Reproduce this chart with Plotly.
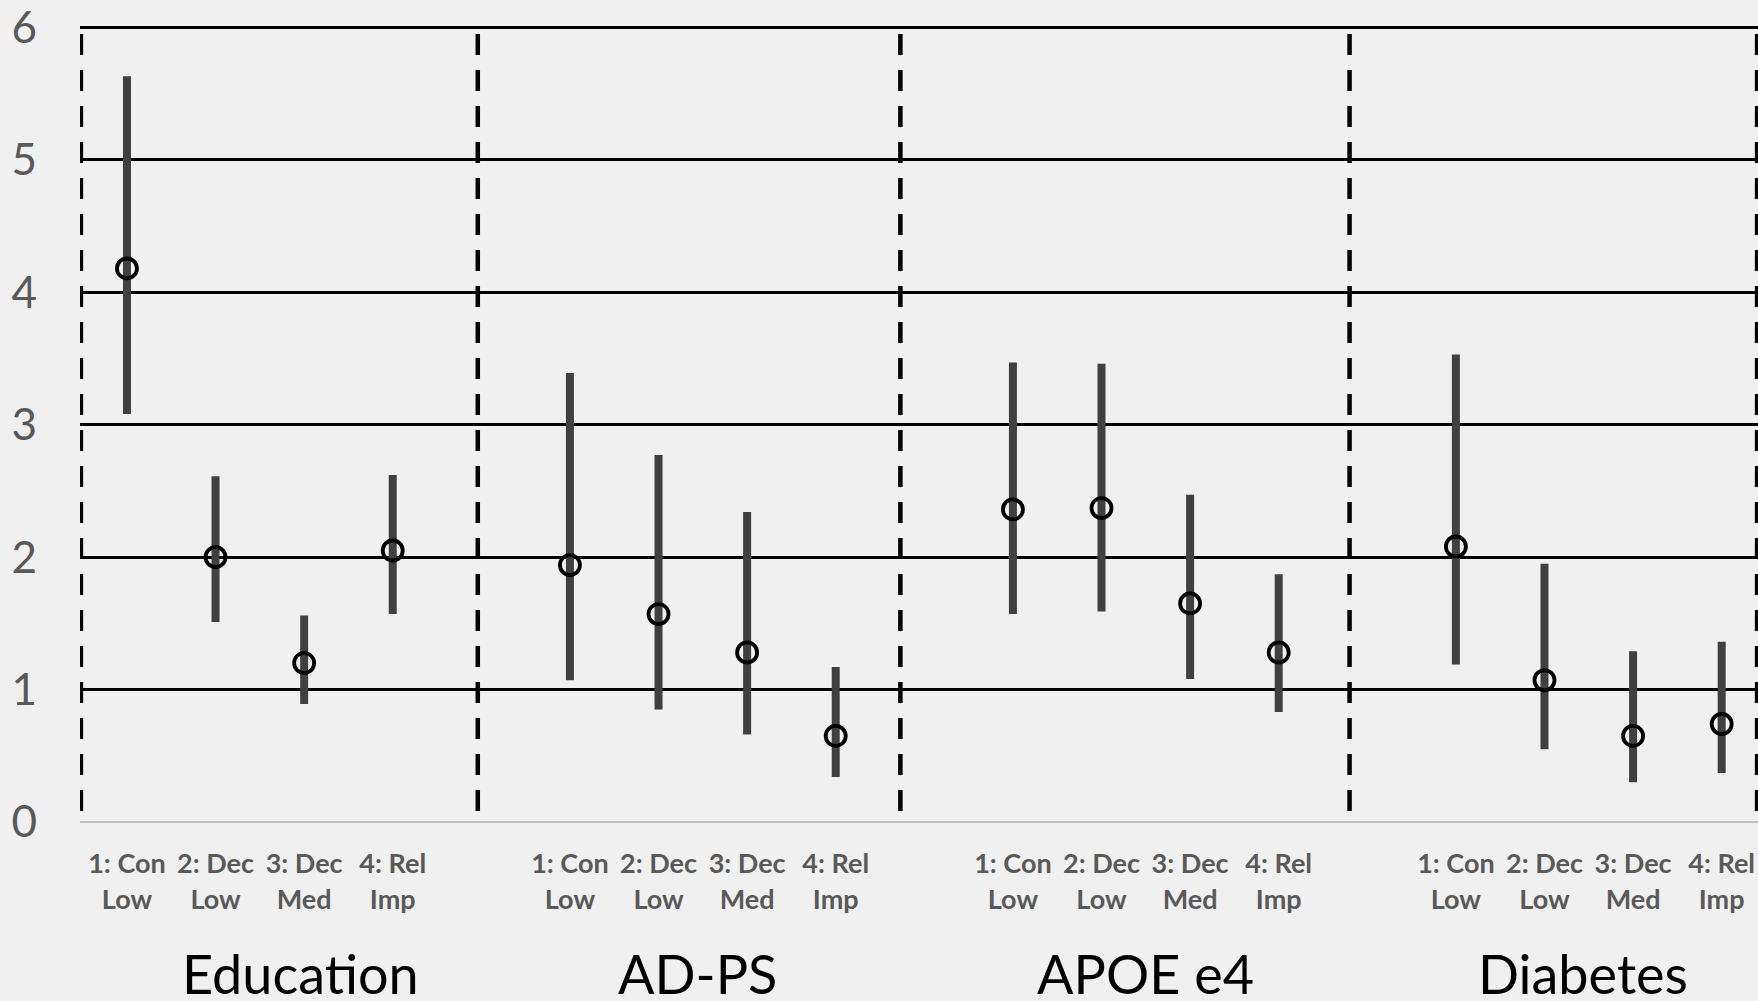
import plotly.graph_objects as go

groups = ["Education", "AD-PS", "APOE e4", "Diabetes"]
classes = ["1: Con<br>Low", "2: Dec<br>Low", "3: Dec<br>Med", "4: Rel<br>Imp"]

estimate = [4.18, 2.00, 1.20, 2.05,
            1.94, 1.57, 1.28, 0.65,
            2.36, 2.37, 1.65, 1.28,
            2.08, 1.07, 0.65, 0.74]
upper = [5.63, 2.61, 1.56, 2.62,
         3.39, 2.77, 2.34, 1.17,
         3.47, 3.46, 2.47, 1.87,
         3.53, 1.95, 1.29, 1.36]
lower = [3.08, 1.51, 0.89, 1.57,
         1.07, 0.85, 0.66, 0.34,
         1.57, 1.59, 1.08, 0.83,
         1.19, 0.55, 0.30, 0.37]

y_ticks = [0, 1, 2, 3, 4, 5, 6]

# slot positions: 4 classes per group, one empty slot between groups
xpos = []
ticktext = []
for gi, g in enumerate(groups):
    for ci, c in enumerate(classes):
        xpos.append(gi * 5 + ci)
        ticktext.append(c)

err_plus = [u - e for u, e in zip(upper, estimate)]
err_minus = [e - l for e, l in zip(estimate, lower)]

fig = go.Figure()
fig.add_trace(go.Scatter(
    x=xpos, y=estimate, mode="markers",
    marker=dict(symbol="circle-open", size=20, color="black", line=dict(width=3.8, color="black")),
    error_y=dict(type="data", symmetric=False, array=err_plus, arrayminus=err_minus,
                 color="#404040", thickness=8, width=0),
    showlegend=False, hoverinfo="skip",
))

# dashed separators
sep_x = [-0.52, 3.96, 8.73, 13.80, 18.40]
for sx in sep_x:
    fig.add_shape(type="line", xref="x", yref="y", x0=sx, x1=sx, y0=5.95, y1=0,
                  line=dict(color="black", width=4.5, dash="21px,15px"), layer="above")

# group labels
label_x = [1.96, 6.44, 11.50, 16.43]
for gx, g in zip(label_x, groups):
    fig.add_annotation(x=gx, xref="x", y=-0.19, yref="paper", text=g, showarrow=False,
                       yanchor="middle", xanchor="center",
                       font=dict(family="Lato, Open Sans, sans-serif", size=54, color="black"))

fig.update_layout(
    width=1758, height=1001,
    margin=dict(l=80, r=0, t=26, b=179),
    paper_bgcolor="#f0f0f0", plot_bgcolor="#f0f0f0",
    font=dict(family="Lato, Open Sans, sans-serif"),
)
fig.update_xaxes(
    range=[-0.53, 18.41], tickvals=xpos, ticktext=ticktext,
    tickfont=dict(size=27, color="#595959", family="Lato, Open Sans, sans-serif", weight="bold"),
    showgrid=False, zeroline=False, showline=False,
    ticks="outside", ticklen=18, tickcolor="rgba(0,0,0,0)",
)
fig.update_yaxes(
    range=[0, 6.01], tickvals=y_ticks,
    tickfont=dict(size=44, color="#595959", family="Lato, Open Sans, sans-serif"),
    showgrid=True, gridcolor="black", gridwidth=3,
    zeroline=True, zerolinecolor="#bfbfbf", zerolinewidth=2,
    showline=False, ticks="", ticklabelstandoff=42, ticklabeloverflow="allow",
)

fig.write_html("out.html")
